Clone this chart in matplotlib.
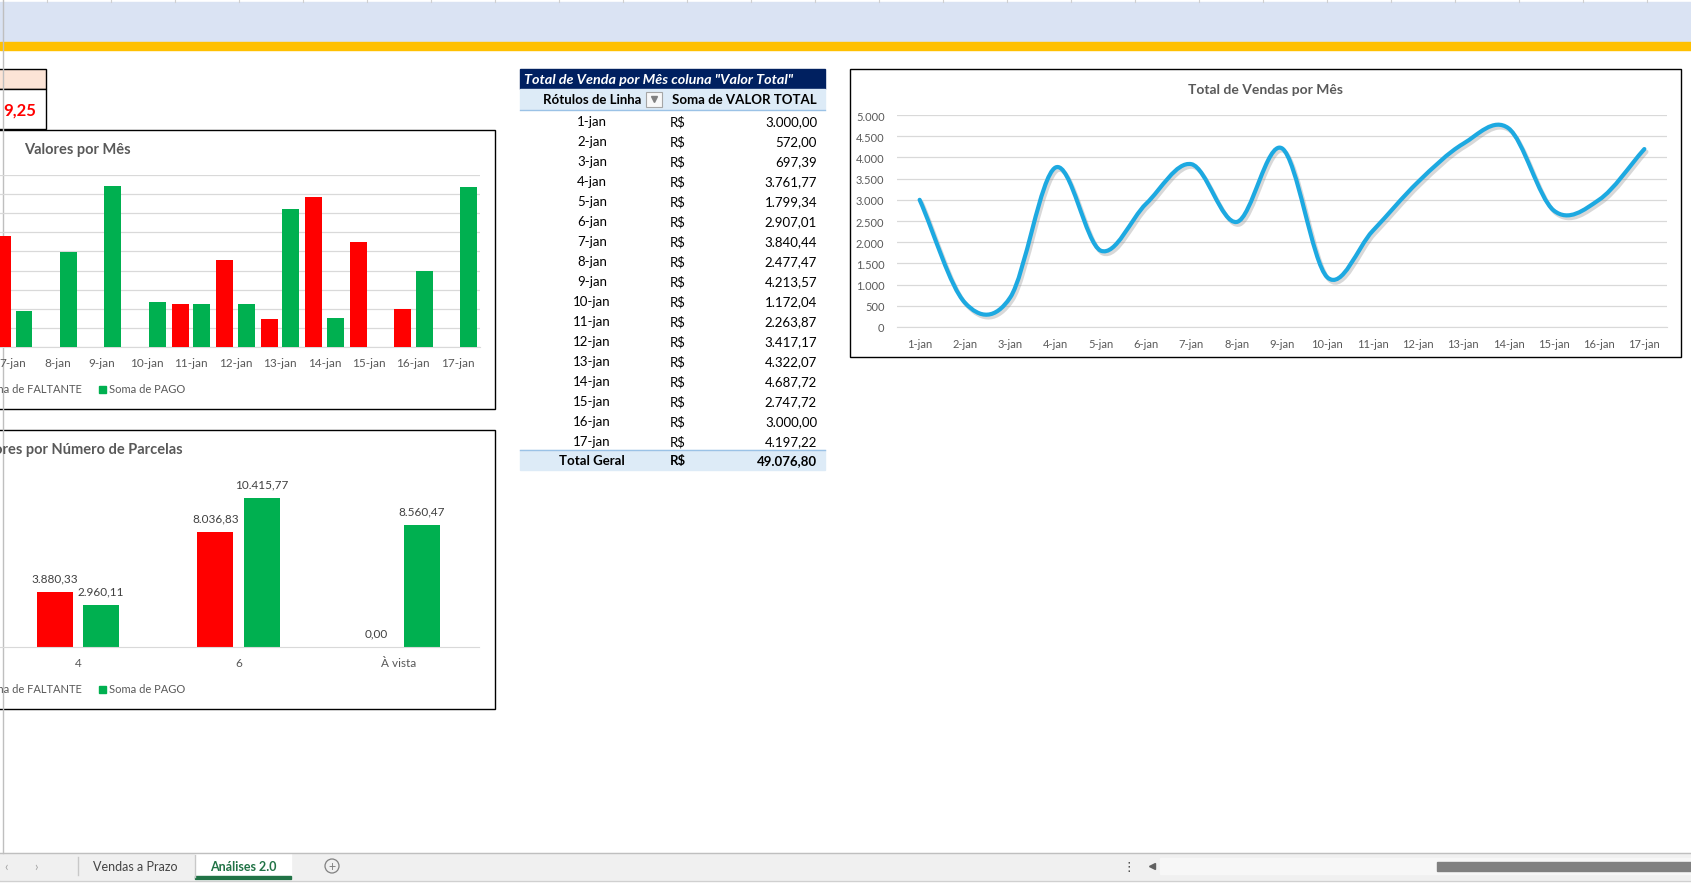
import matplotlib
matplotlib.use("Agg")
import matplotlib.pyplot as plt
import matplotlib.patheffects as pe
from matplotlib.patches import Rectangle, PathPatch, Circle
from matplotlib.path import Path
import numpy as np

plt.rcParams['font.family'] = ['Lato', 'DejaVu Sans']

# --- data ---
dias_barras = ['7-jan', '8-jan', '9-jan', '10-jan', '11-jan', '12-jan',
               '13-jan', '14-jan', '15-jan', '16-jan', '17-jan']
faltante_dia = [2900, 0, 0, 0, 1132, 2285, 720, 3920, 2748, 1000, 0]
pago_dia = [940, 2477, 4214, 1172, 1132, 1132, 3602, 768, 0, 2000, 4197]

parcelas = ['4', '6', 'À vista']
faltante_parc = [3880.33, 8036.83, 0.00]
pago_parc = [2960.11, 10415.77, 8560.47]

dias = ['1-jan', '2-jan', '3-jan', '4-jan', '5-jan', '6-jan', '7-jan', '8-jan',
        '9-jan', '10-jan', '11-jan', '12-jan', '13-jan', '14-jan', '15-jan',
        '16-jan', '17-jan']
total_vendas = [3000.00, 572.00, 697.39, 3761.77, 1799.34, 2907.01, 3840.44,
                2477.47, 4213.57, 1172.04, 2263.87, 3417.17, 4322.07, 4687.72,
                2747.72, 3000.00, 4197.22]

RED = '#FF0000'
GREEN = '#00B050'
GRAY_TXT = '#595959'
GRID = '#D9D9D9'


def br(v, dec=2):
    s = f"{v:,.{dec}f}"
    return s.replace(',', 'X').replace('.', ',').replace('X', '.')


W, H = 1691, 887
fig = plt.figure(figsize=(W / 100, H / 100), dpi=100)
fig.patch.set_facecolor('white')


def px_axes(x0, y0, x1, y1):
    return fig.add_axes([x0 / W, 1 - y1 / H, (x1 - x0) / W, (y1 - y0) / H])


# background "sheet" in pixel coords
bg = fig.add_axes([0, 0, 1, 1])
bg.set_xlim(0, W)
bg.set_ylim(H, 0)
bg.axis('off')

bg.add_patch(Rectangle((0, 3), W, 40, color='#DAE3F3'))
bg.add_patch(Rectangle((0, 43), W, 8, color='#FFC000'))
for xc in range(47, W, 64):
    bg.plot([xc, xc], [0, 3], color='#D0D0D0', lw=0.8)
bg.plot([2.5, 2.5], [0, 854], color='#BFBFBF', lw=1)

# top-left cells
bg.add_patch(Rectangle((-5, 70), 51, 20, fc='#FCE4D6', ec='black', lw=1))
bg.add_patch(Rectangle((-5, 90), 51, 40, fc='white', ec='black', lw=1))
bg.text(36, 111, '9,25', ha='right', va='center', color=RED,
        fontsize=12, fontweight='bold')

# chart boxes
for (x0, y0, x1, y1) in [(-5, 131, 495, 410), (-5, 431, 495, 710), (850, 70, 1681, 358)]:
    bg.add_patch(Rectangle((x0, y0), x1 - x0, y1 - y0, fc='white', ec='black', lw=1))

# ---- chart 1: Valores por Mês ----
bg.text(24, 150, 'Valores por Mês', fontsize=10.5, fontweight='bold',
        color=GRAY_TXT, va='center')
ax1 = px_axes(-9, 176, 480, 348)
ax1.set_facecolor('none')
x1 = np.arange(len(dias_barras))
ax1.bar(x1 - 0.242, faltante_dia, 0.38, color=RED, zorder=3)
ax1.bar(x1 + 0.242, pago_dia, 0.38, color=GREEN, zorder=3)
ax1.set_xlim(-0.5, len(dias_barras) - 0.5)
ax1.set_ylim(0, 4500)
ax1.set_yticks(np.arange(0, 4501, 500))
ax1.set_yticklabels([])
ax1.grid(axis='y', color=GRID, lw=0.9)
ax1.set_axisbelow(True)
ax1.set_xticks(x1)
ax1.set_xticklabels(dias_barras, fontsize=8.5, color=GRAY_TXT)
ax1.tick_params(length=0, pad=7)
for s in ['top', 'right', 'left']:
    ax1.spines[s].set_visible(False)
ax1.spines['bottom'].set_color(GRID)


def legend_at(y):
    bg.text(82, y, 'Soma de FALTANTE', ha='right', va='center', fontsize=8, color=GRAY_TXT)
    bg.add_patch(Rectangle((-30, y - 3.5), 7, 7, color=RED))
    bg.add_patch(Rectangle((99, y - 3.5), 7, 7, color=GREEN))
    bg.text(109, y, 'Soma de PAGO', ha='left', va='center', fontsize=8, color=GRAY_TXT)


legend_at(390)

# ---- chart 2: Valores por Número de Parcelas ----
bg.text(183, 450, 'Valores por Número de Parcelas', ha='right', fontsize=10.5,
        fontweight='bold', color=GRAY_TXT, va='center')
ax2 = px_axes(-2, 476.4, 479, 648)
ax2.set_facecolor('none')
x2 = np.arange(len(parcelas))
b_f = ax2.bar(x2 - 0.1435, faltante_parc, 0.2245, color=RED)
b_p = ax2.bar(x2 + 0.1435, pago_parc, 0.2245, color=GREEN)
for bars, vals in [(b_f, faltante_parc), (b_p, pago_parc)]:
    for r, v in zip(bars, vals):
        ax2.annotate(br(v), (r.get_x() + r.get_width() / 2, v), xytext=(0, 10),
                     textcoords='offset points', ha='center', va='center',
                     fontsize=8.5, color='#404040')
ax2.set_xlim(-0.5, 2.5)
ax2.set_ylim(0, 12000)
ax2.set_yticks([])
ax2.set_xticks(x2)
ax2.set_xticklabels(parcelas, fontsize=8.5, color=GRAY_TXT)
ax2.tick_params(length=0, pad=7)
for s in ['top', 'right', 'left']:
    ax2.spines[s].set_visible(False)
ax2.spines['bottom'].set_color(GRID)
legend_at(690)

# ---- pivot table ----
TX0, TX1 = 520, 825
bg.add_patch(Rectangle((TX0, 70), TX1 - TX0, 20, color='#002060'))
bg.text(524, 80, 'Total de Venda por Mês coluna "Valor Total"', color='white',
        fontsize=10.4, fontweight='bold', fontstyle='italic', va='center')
bg.add_patch(Rectangle((TX0, 90), TX1 - TX0, 20, color='#DDEBF7'))
bg.plot([TX0, TX1], [110.5, 110.5], color='#9BC2E6', lw=1)
bg.text(592, 100, 'Rótulos de Linha', ha='center', va='center', fontsize=9.5, fontweight='bold')
bg.text(744, 100, 'Soma de VALOR TOTAL', ha='center', va='center', fontsize=9.5, fontweight='bold')
bg.add_patch(Rectangle((646, 93), 16, 15, fc='#F8F8F8', ec='#A6A6A6', lw=0.8))
bg.plot([654], [100], marker='v', ms=4, color='#808080')
for i, (d, v) in enumerate(zip(dias, total_vendas)):
    y = 122 + 20 * i
    bg.text(592, y, d, ha='center', va='center', fontsize=9.5)
    bg.text(678, y, 'R$', ha='center', va='center', fontsize=9.5)
    bg.text(817, y, br(v), ha='right', va='center', fontsize=9.5)
bg.add_patch(Rectangle((TX0, 451), TX1 - TX0, 20, color='#DDEBF7'))
bg.plot([TX0, TX1], [451, 451], color='#9BC2E6', lw=1)
bg.text(592, 461, 'Total Geral', ha='center', va='center', fontsize=9.5, fontweight='bold')
bg.text(678, 461, 'R$', ha='center', va='center', fontsize=9.5, fontweight='bold')
bg.text(817, 461, br(sum(total_vendas)), ha='right', va='center', fontsize=9.5, fontweight='bold')

# ---- line chart: Total de Vendas por Mês ----
bg.text(1266, 90, 'Total de Vendas por Mês', ha='center', va='center', fontsize=10,
        fontweight='bold', color=GRAY_TXT)
ax3 = px_axes(897, 116, 1667, 328)
ax3.set_facecolor('none')
xs = np.arange(len(dias), dtype=float)
ys = np.array(total_vendas)
pts = np.column_stack([xs, ys])
tang = np.zeros_like(pts)
tang[1:-1] = (pts[2:] - pts[:-2]) / 2
tang[0] = pts[1] - pts[0]
tang[-1] = pts[-1] - pts[-2]
verts = [pts[0]]
codes = [Path.MOVETO]
for i in range(len(pts) - 1):
    verts += [pts[i] + tang[i] / 3, pts[i + 1] - tang[i + 1] / 3, pts[i + 1]]
    codes += [Path.CURVE4] * 3
curve = PathPatch(Path(verts, codes), fill=False, ec='#1DA9E1', lw=3, zorder=3,
                  capstyle='round', joinstyle='round')
curve.set_path_effects([pe.SimpleLineShadow(offset=(1.5, -2), shadow_color='gray', alpha=0.3),
                        pe.Normal()])
ax3.add_patch(curve)
ax3.set_xlim(-0.5, len(dias) - 0.5)
ax3.set_ylim(0, 5000)
ax3.set_yticks(np.arange(0, 5001, 500))
ax3.set_yticklabels([br(v, 0) for v in np.arange(0, 5001, 500)], fontsize=8,
                    color=GRAY_TXT)
ax3.set_xticks(xs)
ax3.set_xticklabels(dias, fontsize=8, color=GRAY_TXT)
ax3.grid(axis='y', color=GRID, lw=0.9)
ax3.set_axisbelow(True)
ax3.tick_params(length=0)
ax3.tick_params(axis='y', pad=9)
ax3.tick_params(axis='x', pad=8)
for s in ['top', 'right', 'left']:
    ax3.spines[s].set_visible(False)
ax3.spines['bottom'].set_color(GRID)

# ---- sheet tabs bar ----
bg.add_patch(Rectangle((0, 854), W, 28, color='#F0F0F0'))
bg.plot([0, W], [854, 854], color='#BFBFBF', lw=1)
bg.add_patch(Rectangle((195, 854), 96, 26, color='white'))
bg.add_patch(Rectangle((195, 877), 96, 3, color='#217346'))
bg.plot([78, 78], [858, 876], color='#C8C8C8', lw=1)
bg.plot([195, 195], [856, 878], color='#C8C8C8', lw=1)
bg.text(135, 867, 'Vendas a Prazo', ha='center', va='center', fontsize=9, color='#444444')
bg.text(243, 867, 'Análises 2.0', ha='center', va='center', fontsize=9,
        fontweight='bold', color='#217346')
bg.add_patch(Circle((332, 867), 7, fill=False, ec='#808080', lw=0.9))
bg.text(332, 867, '+', ha='center', va='center', fontsize=9, color='#808080')
bg.text(6, 867, '‹', ha='center', va='center', fontsize=9, color='#A0A0A0')
bg.text(36, 867, '›', ha='center', va='center', fontsize=9, color='#A0A0A0')
bg.text(1129, 867, '⋮', ha='center', va='center', fontsize=9, color='#404040')
bg.plot([1152], [867], marker='<', ms=5, color='#606060')
bg.add_patch(Rectangle((1160, 859), W - 1160, 16, color='#F7F7F7'))
bg.add_patch(Rectangle((1437, 863), W - 1437, 9, color='#808080'))
bg.add_patch(Rectangle((0, 882), W, 5, color='white'))
bg.plot([0, W], [882, 882], color='#D0D0D0', lw=1)

fig.savefig('out.png', dpi=100)
